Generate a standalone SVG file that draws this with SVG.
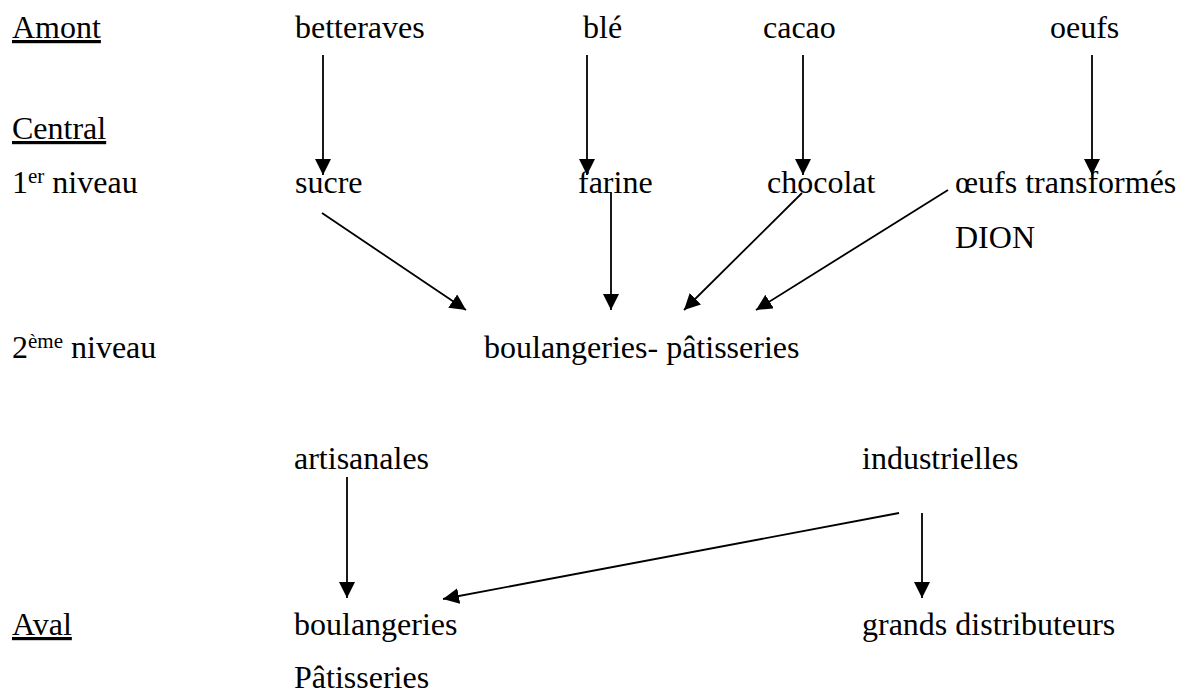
<svg xmlns="http://www.w3.org/2000/svg" width="1184" height="693" viewBox="0 0 1184 693">
<defs>
<style>
text{font-family:'Liberation Serif','Tinos','Times New Roman','DejaVu Serif',serif;font-size:32px;fill:#000}
.u{text-decoration:underline}
.sup{font-size:21px}
.c line{stroke:#000;stroke-width:1.8;marker-end:url(#ah)}
</style>
<marker id="ah" markerUnits="userSpaceOnUse" markerWidth="17" markerHeight="17" viewBox="0 0 17 17" refX="16" refY="8" orient="auto">
<path d="M0,0 L16,8 L0,16 z" fill="#000"/>
</marker>
</defs>
<rect width="1184" height="693" fill="#fff"/>
<g id="labels" font-family="Liberation Serif, serif">
<text class="u" x="12" y="38">Amont</text>
<text class="u" x="12" y="139">Central</text>
<text x="12" y="193">1<tspan class="sup" dy="-10">er</tspan><tspan dy="10"> niveau</tspan></text>
<text x="12" y="358">2<tspan class="sup" dy="-10">ème</tspan><tspan dy="10"> niveau</tspan></text>
<text class="u" x="12" y="635">Aval</text>
</g>
<g id="n-betteraves"><text x="295" y="38">betteraves</text></g>
<g id="n-ble"><text x="583" y="38">blé</text></g>
<g id="n-cacao"><text x="763" y="38">cacao</text></g>
<g id="n-oeufs"><text x="1050" y="38">oeufs</text></g>
<g id="n-sucre"><text x="295" y="193">sucre</text></g>
<g id="n-farine"><text x="578" y="193">farine</text></g>
<g id="n-chocolat"><text x="767" y="193">chocolat</text></g>
<g id="n-oeufs-transformes"><text x="955" y="193">œufs transformés</text><text x="955" y="248">DION</text></g>
<g id="n-boulangeries-patisseries"><text x="484" y="358">boulangeries- pâtisseries</text></g>
<g id="n-artisanales"><text x="294" y="469">artisanales</text></g>
<g id="n-industrielles"><text x="862" y="469">industrielles</text></g>
<g id="n-boulangeries"><text x="294" y="635">boulangeries</text><text x="294" y="688">Pâtisseries</text></g>
<g id="n-grands-distributeurs"><text x="862" y="635">grands distributeurs</text></g>
<g id="connectors" class="c">
<line x1="323" y1="55" x2="323" y2="175"/>
<line x1="587" y1="55" x2="587" y2="175"/>
<line x1="803" y1="55" x2="803" y2="175"/>
<line x1="1092" y1="55" x2="1092" y2="175"/>
<line x1="322" y1="213" x2="466" y2="310"/>
<line x1="611" y1="192" x2="611" y2="310"/>
<line x1="802" y1="193" x2="684" y2="310"/>
<line x1="948" y1="190" x2="756" y2="310"/>
<line x1="347" y1="477" x2="347" y2="598"/>
<line x1="899" y1="513" x2="443" y2="599"/>
<line x1="922" y1="513" x2="922" y2="598"/>
</g>
</svg>
